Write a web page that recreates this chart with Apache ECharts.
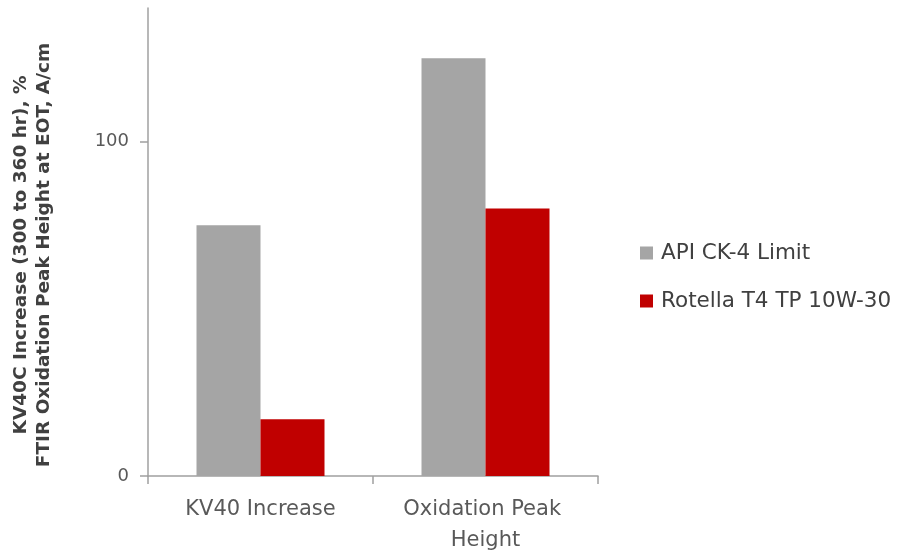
<!DOCTYPE html>
<html><head><meta charset="utf-8">
<script src="https://cdn.jsdelivr.net/npm/echarts@6/dist/echarts.min.js"></script>
<style>html,body{margin:0;padding:0;background:#fff}#c{width:897px;height:557px}</style>
</head><body><div id="c"></div>
<script>
const categories = ['KV40 Increase', 'Oxidation Peak Height'];
const seriesNames = ['API CK-4 Limit', 'Rotella T4 TP 10W-30'];
const apiLimit = [75, 125];
const rotella = [17, 80];
const yTicks = [0, 100];
const yAxisTitle = 'KV40C Increase (300 to 360 hr), %\nFTIR Oxidation Peak Height at EOT, A/cm';

const font = 'DejaVu Sans';
const chart = echarts.init(document.getElementById('c'));
chart.setOption({
  animation: false,
  grid: {left: 148, right: 299, top: 8, bottom: 81, outerBoundsMode: 'none', containLabel: false},
  legend: {
    orient: 'vertical', left: 635, top: 237, itemGap: 26,
    itemWidth: 13, itemHeight: 13, icon: 'rect',
    textStyle: {fontFamily: font, fontSize: 21.5, color: '#404040', padding: [0,0,0,3]},
    data: seriesNames
  },
  xAxis: {
    type: 'category', data: categories,
    axisLine: {lineStyle: {color: '#a0a0a0', width: 1.5}},
    axisTick: {show: true, length: 8, lineStyle: {color: '#a0a0a0', width: 1.5}},
    axisLabel: {fontFamily: font, fontSize: 21, color: '#595959', margin: 18, lineHeight: 31,
      width: 190, overflow: 'break', interval: 0}
  },
  yAxis: {
    type: 'value', min: 0, max: 140, interval: 100,
    name: yAxisTitle, nameLocation: 'middle', nameGap: 92,
    nameTextStyle: {fontFamily: font, fontSize: 18.5, fontWeight: 'bold', color: '#404040', lineHeight: 23,
      padding: [0, 26, 0, 0]},
    axisLine: {show: true, lineStyle: {color: '#a0a0a0', width: 1.5}},
    axisTick: {show: true, length: 8, lineStyle: {color: '#a0a0a0', width: 1.5}},
    axisLabel: {fontFamily: font, fontSize: 18, color: '#595959', margin: 19, showMaxLabel: false,
      formatter: v => yTicks.includes(v) ? String(v) : ''},
    splitLine: {show: false}
  },
  series: [
    {name: seriesNames[0], type: 'bar', data: apiLimit, itemStyle: {color: '#a5a5a5'},
     barWidth: 64, barGap: '0%'},
    {name: seriesNames[1], type: 'bar', data: rotella, itemStyle: {color: '#c00000'},
     barWidth: 64, barGap: '0%'}
  ]
});
</script></body></html>
